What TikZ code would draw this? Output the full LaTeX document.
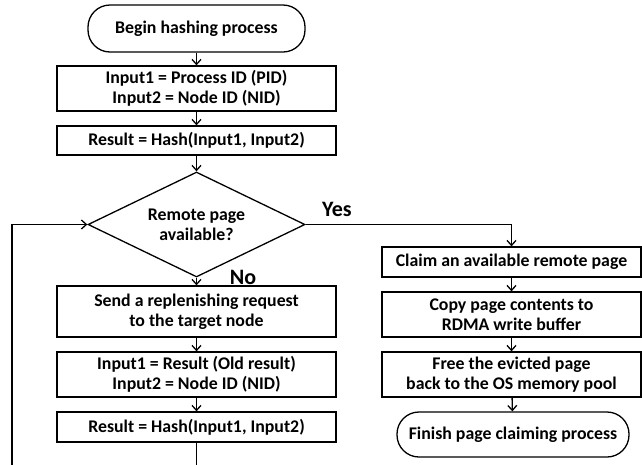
\documentclass[tikz,border=0pt]{standalone}
\usepackage{fontspec}
\setmainfont{Carlito}
\usetikzlibrary{arrows.meta,shapes.geometric,calc}
\begin{document}
\begin{tikzpicture}[x=1pt,y=-1pt,
  every node/.style={font=\bfseries\fontsize{17.8}{20}\selectfont, align=center, inner sep=0pt},
  box/.style={draw, line width=1.3pt, rectangle},
  term/.style={draw, line width=1.3pt, rectangle, rounded corners=22pt},
  dec/.style={draw, line width=1.3pt, diamond, aspect=2},
  conn/.style={line width=1.3pt, -{Straight Barb[length=5pt,width=9pt]}},
  lbl/.style={font=\bfseries\fontsize{22}{24}\selectfont}
]
\useasboundingbox (0,0) rectangle (642,464);
\clip (0,0) rectangle (642,464);
\node[term, minimum width=217pt, minimum height=47pt] (begin) at (196.5,28.5) {Begin hashing process};
\node[box, minimum width=279pt, minimum height=45pt] (in1) at (196.5,88.5) {Input1 = Process ID (PID)\\Input2 = Node ID (NID)};
\node[box, minimum width=279pt, minimum height=29pt] (res1) at (196.5,140.5) {Result = Hash(Input1, Input2)};
\node[dec, minimum width=217pt, minimum height=105pt] (dia) at (196.5,224.5) {Remote page\\available?};
\node[box, minimum width=279pt, minimum height=51pt] (send) at (196.5,311.5) {Send a replenishing request\\to the target node};
\node[box, minimum width=279pt, minimum height=45pt] (in2) at (196.5,374.5) {Input1 = Result (Old result)\\Input2 = Node ID (NID)};
\node[box, minimum width=279pt, minimum height=30pt] (res2) at (196.5,427) {Result = Hash(Input1, Input2)};
\node[box, minimum width=259pt, minimum height=30pt] (claim) at (511.5,262) {Claim an available remote page};
\node[box, minimum width=259pt, minimum height=45pt] (copy) at (511.5,314.5) {Copy page contents to\\RDMA write buffer};
\node[box, minimum width=259pt, minimum height=45pt] (free) at (511.5,374.5) {Free the evicted page\\back to the OS memory pool};
\node[term, minimum width=232pt, minimum height=45pt] (fin) at (513,434.5) {Finish page claiming process};
\node[lbl] (yes) at (337,209) {Yes};
\node[lbl] (no) at (243,277) {No};
\coordinate (lb) at (12,480);
\draw[conn] (begin) -- (in1);
\draw[conn] (in1) -- (res1);
\draw[conn] (res1) -- (dia);
\draw[conn] (dia) -- (send);
\draw[conn] (send) -- (in2);
\draw[conn] (in2) -- (res2);
\draw[conn] (dia.east) -| (claim.north);
\draw[conn] (claim) -- (copy);
\draw[conn] (copy) -- (free);
\draw[conn] (free) -- (fin);
\draw[conn] (res2.south) |- (lb) |- (dia.west);
\end{tikzpicture}
\end{document}
